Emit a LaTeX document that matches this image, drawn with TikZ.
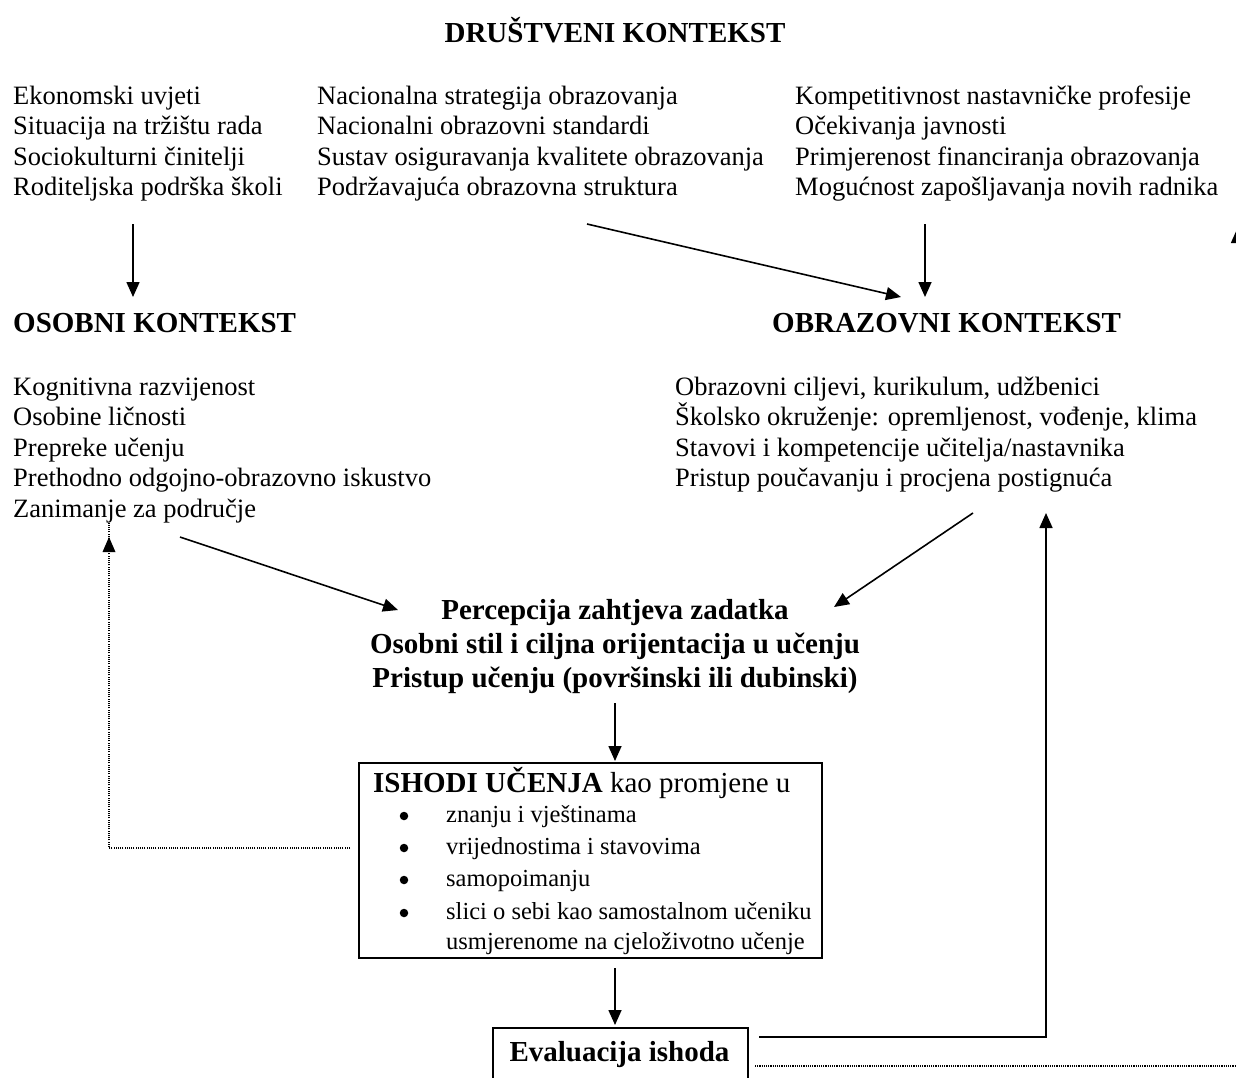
\documentclass[tikz,border=0pt]{standalone}
\usepackage{fontspec}
\setmainfont{Liberation Serif}
\usetikzlibrary{arrows.meta}
\begin{document}
\begin{tikzpicture}[x=1pt,y=-1pt,
  txt/.style={anchor=base west, inner sep=0pt, font=\fontsize{26.5}{30.5}\selectfont},
  hd/.style={anchor=base west, inner sep=0pt, font=\fontsize{29}{33}\selectfont\bfseries},
  hdc/.style={anchor=base, inner sep=0pt, font=\fontsize{29}{33}\selectfont\bfseries},
  btxt/.style={anchor=base west, inner sep=0pt, font=\fontsize{24.5}{28}\selectfont},
  bul/.style={circle, fill=black, inner sep=0pt, minimum size=8.5pt},
  tip/.style={-{Triangle[length=15pt,width=13pt]}},
  arr/.style={line width=1.6pt, tip},
  dots/.style={line width=1.1pt, dash pattern=on 1.1pt off 1.1pt},
  frame/.style={draw, line width=2pt}
]
\useasboundingbox (0,0) rectangle (1236,1077);
\fill[white] (0,0) rectangle (1236,1077);

% title
\node[hdc] (title) at (615,42) {DRUŠTVENI KONTEKST};

% three columns
\foreach \t [count=\i] in {Ekonomski uvjeti, Situacija na tržištu rada, Sociokulturni činitelji, Roditeljska podrška školi}
  \node[txt] (ca\i) at (13,{104+30.5*(\i-1)}) {\t};
\foreach \t [count=\i] in {Nacionalna strategija obrazovanja, Nacionalni obrazovni standardi, Sustav osiguravanja kvalitete obrazovanja, Podržavajuća obrazovna struktura}
  \node[txt] (cb\i) at (317,{104+30.5*(\i-1)}) {\t};
\foreach \t [count=\i] in {Kompetitivnost nastavničke profesije, Očekivanja javnosti, Primjerenost financiranja obrazovanja, Mogućnost zapošljavanja novih radnika}
  \node[txt] (cc\i) at (795,{104+30.5*(\i-1)}) {\t};

% headings
\node[hd] (osobni) at (13,332) {OSOBNI KONTEKST};
\node[hd] (obraz) at (772,332) {OBRAZOVNI KONTEKST};

\foreach \t [count=\i] in {Kognitivna razvijenost, Osobine ličnosti, Prepreke učenju, Prethodno odgojno-obrazovno iskustvo, Zanimanje za područje}
  \node[txt] (oa\i) at (13,{395+30.5*(\i-1)}) {\t};
\foreach \t [count=\i] in {{Obrazovni ciljevi, kurikulum, udžbenici}, {Školsko okruženje: opremljenost, vođenje, klima}, Stavovi i kompetencije učitelja/nastavnika, Pristup poučavanju i procjena postignuća}
  \node[txt] (ob\i) at (675,{395+30.5*(\i-1)}) {\t};

% central block
\node[hdc] (perc1) at (615,619) {Percepcija zahtjeva zadatka};
\node[hdc] (perc2) at (615,653) {Osobni stil i ciljna orijentacija u učenju};
\node[hdc] (perc3) at (615,687) {Pristup učenju (površinski ili dubinski)};

% outcomes box
\node[frame, minimum width=463pt, minimum height=195pt, inner sep=0pt] (ishbox) at (590.5,860.5) {};
\node[anchor=base west, inner sep=0pt, font=\fontsize{29}{33}\selectfont] (ishhead) at (373,792) {\textbf{ISHODI UČENJA} kao promjene u};
\foreach \t/\yy [count=\i] in {znanju i vještinama/822, vrijednostima i stavovima/854, samopoimanju/886, slici o sebi kao samostalnom učeniku/919}
  {\node[btxt] (it\i) at (446,\yy) {\t};
   \node[bul] (bu\i) at (404,{\yy-6}) {};}
\node[btxt] (it5) at (446,949) {usmjerenome na cjeloživotno učenje};

% evaluation box
\node[frame, minimum width=255pt, minimum height=70pt, inner sep=0pt, anchor=north west] (evalbox) at (492,1027) {};
\node[hdc] (evaltxt) at (619.5,1061) {Evaluacija ishoda};

% connector coordinates
\coordinate (a1s) at (133,224); \coordinate (a1e) at (133,297);
\coordinate (a2s) at (587,224); \coordinate (a2e) at (901,297);
\coordinate (a3s) at (925,224); \coordinate (a3e) at (925,297);
\coordinate (a4s) at (180,537); \coordinate (a4e) at (398,610);
\coordinate (a5s) at (973,513); \coordinate (a5e) at (834,607);
\coordinate (a6s) at (615,703); \coordinate (a6e) at (615,761);
\coordinate (a7s) at (615,968); \coordinate (a7e) at (615,1025);
\coordinate (fbs) at (759,1037); \coordinate (fbc) at (1046,1037); \coordinate (fbe) at (1046,513);
\coordinate (dls) at (350,848); \coordinate (dlc) at (109,848); \coordinate (dle) at (109,537);
\coordinate (drs) at (755,1066); \coordinate (dre) at (1236,1066);
\coordinate (eds) at (1237.5,300); \coordinate (ede) at (1237.5,228);

\draw[arr] (a1s) -- (a1e);
\draw[arr] (a2s) -- (a2e);
\draw[arr] (a3s) -- (a3e);
\draw[arr] (a4s) -- (a4e);
\draw[arr] (a5s) -- (a5e);
\draw[arr] (a6s) -- (a6e);
\draw[arr] (a7s) -- (a7e);
\draw[arr] (fbs) -- (fbc) -- (fbe);
\draw[dots] (dls) -- (dlc) -- ([yshift=14pt]dle);
\fill (dle) -- ++(-6.5,15) -- ++(13,0) -- cycle;
\draw[dots] (drs) -- (dre);
\begin{scope}
\clip (0,0) rectangle (1236,1077);
\draw[arr] (eds) -- (ede);
\end{scope}
\end{tikzpicture}
\end{document}
